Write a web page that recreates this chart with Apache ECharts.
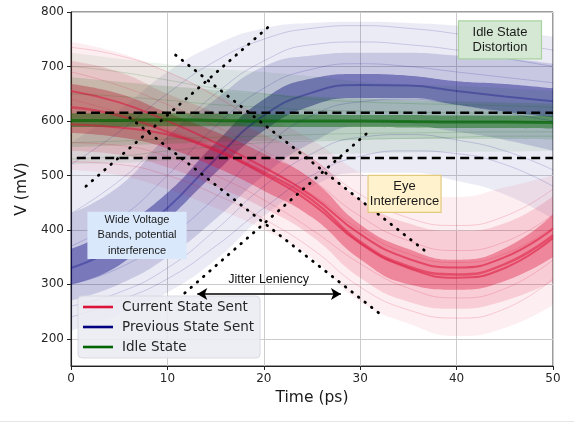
<!DOCTYPE html>
<html><head><meta charset="utf-8">
<script src="https://cdn.jsdelivr.net/npm/echarts@6/dist/echarts.min.js"></script>
<style>html,body{margin:0;padding:0;background:#fff}#c{width:574px;height:424px}</style>
</head><body><div id="c"></div>
<script>
// ---- data ----
const timePs = [0, 5, 10, 15, 20, 25, 30, 35, 40, 45, 50];
const xTicks = [0, 10, 20, 30, 40, 50];
const yTicks = [200, 300, 400, 500, 600, 700, 800];

// Current State Sent (red)
const redCore    = [625, 610, 580, 548, 506, 455, 378, 333, 318, 337, 390];
const redUpperSub= [655, 634, 600, 560, 515, 462, 392, 347, 331, 350, 402];
const redLowerSub= [594, 588, 575, 545, 502, 448, 375, 330, 312, 330, 385];
const redInnerLo = [578, 570, 550, 515, 472, 423, 346, 300, 290, 306, 350];
const redInnerHi = [668, 650, 615, 580, 540, 492, 410, 365, 345, 366, 428];
const redMidLo   = [545, 538, 515, 480, 440, 388, 312, 268, 255, 270, 305];
const redMidHi   = [710, 690, 650, 615, 575, 532, 455, 412, 398, 412, 462];
const redOutLo   = [510, 500, 475, 440, 400, 348, 268, 228, 205, 220, 262];
const redOutHi   = [745, 725, 690, 650, 610, 565, 505, 468, 460, 478, 500];
const redTraces  = [
  [735, 720, 690, 645, 590, 530, 465, 422, 408, 425, 475],
  [690, 665, 630, 590, 545, 492, 425, 380, 362, 378, 428],
  [640, 615, 585, 552, 512, 465, 400, 356, 340, 356, 405],
  [560, 555, 535, 500, 455, 400, 338, 293, 275, 292, 345],
  [525, 520, 500, 465, 420, 365, 295, 253, 238, 255, 310]
];

// Previous State Sent (blue)
const blueCore    = [330, 370, 440, 530, 610, 652, 666, 665, 655, 645, 636];
const blueInnerLo = [300, 335, 418, 505, 582, 628, 642, 642, 630, 617, 607];
const blueInnerHi = [365, 405, 468, 560, 640, 678, 686, 683, 673, 668, 660];
const blueMidLo   = [270, 300, 350, 420, 500, 560, 590, 590, 580, 565, 545];
const blueMidHi   = [430, 480, 570, 640, 700, 720, 725, 725, 720, 715, 705];
const blueOutLo   = [215, 245, 285, 345, 425, 480, 505, 505, 490, 465, 420];
const blueOutHi   = [560, 620, 690, 740, 770, 780, 782, 780, 775, 765, 755];
const blueTraces  = [
  [260, 285, 330, 400, 480, 540, 570, 575, 565, 545, 510],
  [300, 330, 385, 460, 550, 610, 635, 640, 630, 615, 600],
  [370, 420, 500, 590, 660, 695, 705, 700, 690, 680, 670],
  [430, 490, 570, 650, 710, 740, 745, 740, 730, 715, 700],
  [520, 580, 650, 710, 750, 770, 775, 770, 760, 745, 730],
  [240, 270, 310, 370, 440, 500, 535, 545, 540, 520, 480]
];

// Idle State (green)
const greenCore    = [601, 601, 602, 601, 600, 600, 600, 599, 598, 598, 597];
const greenInnerLo = [589, 589, 590, 590, 589, 589, 589, 588, 587, 587, 586];
const greenInnerHi = [614, 614, 614, 613, 612, 612, 611, 611, 610, 610, 609];
const greenMidLo   = [552, 555, 558, 561, 563, 565, 566, 567, 567, 567, 566];
const greenMidHi   = [680, 672, 664, 657, 650, 645, 641, 638, 636, 634, 632];
const greenOutLo   = [520, 523, 527, 531, 535, 538, 540, 542, 543, 544, 545];
const greenOutHi   = [725, 714, 704, 696, 690, 682, 672, 667, 664, 660, 655];
const greenTraces  = [
  [700, 690, 675, 660, 650, 640, 635, 632, 630, 628, 625],
  [650, 645, 638, 630, 625, 620, 618, 616, 615, 614, 612],
  [560, 563, 567, 570, 572, 575, 577, 578, 579, 580, 580],
  [530, 535, 545, 553, 560, 563, 566, 568, 570, 572, 572]
];

// reference lines
const hLevels = [615, 532];
const hStart = 0.6, hEnd = 50;
const dottedLines = [
  [[1.55, 480], [20.7, 776]],
  [[10.85, 721], [36.9, 359]],
  [[6.1, 606], [32.1, 245]],
  [[11.8, 284], [31.0, 582]]
];
const jitterArrow = [[13.1, 282], [28.0, 282]];

// annotations (data coordinates of their centres)
const notes = [
  {text: 'Idle State\nDistortion', at: [44.5, 749], w: 83, h: 38, fill: '#d5e8d4', stroke: '#a9d3a0', size: 13},
  {text: 'Eye\nInterference', at: [34.6, 466], w: 73, h: 37, fill: '#fff2cc', stroke: '#e3c97e', size: 13},
  {text: 'Wide Voltage\nBands, potential\ninterference', at: [6.85, 390], w: 98, h: 46, fill: '#dae8fc', stroke: '#dae8fc', size: 11}
];
const jitterLabel = {text: 'Jitter Leniency', at: [20.5, 308]};

const RED = '#dc143c', BLUE = '#000080', GREEN = '#006400';
const SM = 0.5;

// ---- build series ----
const pts = arr => timePs.map((x, i) => [x, arr[i]]);
const series = [];
let uid = 0;
// bands: stacked areas on a hidden category axis aligned with the time axis
function band(lo, hi, color, op) {
  const id = 'band' + (uid++);
  series.push({type: 'line', name: '_' + id + 'a', xAxisIndex: 1, stack: id, data: lo.slice(), smooth: SM,
    symbol: 'none', lineStyle: {opacity: 0}, silent: true, z: 2});
  series.push({type: 'line', name: '_' + id + 'b', xAxisIndex: 1, stack: id, data: hi.map((v, i) => v - lo[i]), smooth: SM,
    symbol: 'none', lineStyle: {opacity: 0}, areaStyle: {color: color, opacity: op}, silent: true, z: 2});
}
function trace(arr, color, op, w, name) {
  series.push({type: 'line', name: name || '_t' + (uid++), data: pts(arr), smooth: SM, symbol: 'none',
    itemStyle: {color: color}, lineStyle: {color: color, width: w, opacity: op}, silent: true, z: 3});
}

// blue first
band(blueOutLo, blueOutHi, BLUE, 0.08);
band(blueMidLo, blueMidHi, BLUE, 0.15);
band(blueInnerLo, blueInnerHi, BLUE, 0.4);
blueTraces.forEach(t => trace(t, BLUE, 0.16, 1));
trace(blueCore, BLUE, 0.3, 2, 'Previous State Sent');
// red
band(redOutLo, redOutHi, RED, 0.07);
band(redMidLo, redMidHi, RED, 0.15);
band(redInnerLo, redInnerHi, RED, 0.38);
redTraces.forEach(t => trace(t, RED, 0.18, 1));
trace(redUpperSub, RED, 0.55, 2);
trace(redLowerSub, RED, 0.55, 2);
trace(redCore, RED, 0.5, 2.5, 'Current State Sent');
// green
band(greenOutLo, greenOutHi, GREEN, 0.07);
band(greenMidLo, greenMidHi, GREEN, 0.13);
band(greenInnerLo, greenInnerHi, GREEN, 0.45);
greenTraces.forEach(t => trace(t, GREEN, 0.15, 1));
trace(greenCore, GREEN, 0.65, 3, 'Idle State');

// dashed horizontals
hLevels.forEach((v, i) => series.push({type: 'line', name: '_h' + i, data: [[hStart, v], [hEnd, v]],
  symbol: 'none', silent: true, z: 6, lineStyle: {color: '#000', width: 2.6, type: [9, 5.2]}}));
// dotted diagonals
dottedLines.forEach((l, i) => series.push({type: 'line', name: '_d' + i, data: l,
  symbol: 'none', silent: true, z: 6, lineStyle: {color: '#000', width: 2.8, type: [0.6, 7.7], cap: 'round'}}));
// arrow
series.push({type: 'line', name: '_arrow', data: [], silent: true, z: 7,
  markLine: {silent: true, symbol: ['arrow', 'arrow'], symbolSize: [9, 10], label: {show: false},
    lineStyle: {color: '#000', width: 1.6, type: 'solid'},
    data: [[{coord: jitterArrow[0]}, {coord: jitterArrow[1]}]]}});

const chart = echarts.init(document.getElementById('c'), null, {renderer: 'canvas'});
const FONT = 'DejaVu Sans';
chart.setOption({
  animation: false,
  backgroundColor: '#fff',
  grid: {left: 71, right: 21, top: 12, bottom: 58, show: true, borderColor: '#3a3a3a', borderWidth: 1},
  xAxis: [{type: 'value', min: 0, max: 50, interval: 10,
    name: 'Time (ps)', nameLocation: 'middle', nameGap: 23,
    nameTextStyle: {fontFamily: FONT, fontSize: 15.5, color: '#1a1a1a'},
    axisLine: {lineStyle: {color: '#222', width: 1.1}},
    axisTick: {show: true, length: 4, lineStyle: {color: '#222'}},
    axisLabel: {fontFamily: FONT, fontSize: 12, color: '#262626', margin: 7,
      formatter: v => xTicks.includes(v) ? String(v) : ''},
    splitLine: {show: true, lineStyle: {color: '#cccccc', width: 1}}},
    {type: 'category', data: timePs.map(String), boundaryGap: false, show: false}],
  yAxis: {type: 'value', min: 150, max: 800, splitNumber: 7,
    name: 'V (mV)', nameLocation: 'middle', nameGap: 36,
    nameTextStyle: {fontFamily: FONT, fontSize: 15.5, color: '#1a1a1a'},
    axisLine: {show: true, lineStyle: {color: '#222', width: 1.1}},
    axisTick: {show: true, length: 4, lineStyle: {color: '#222'}},
    axisLabel: {fontFamily: FONT, fontSize: 12, color: '#262626', margin: 7, showMinLabel: false,
      formatter: v => yTicks.includes(v) ? String(v) : ''},
    splitLine: {show: true, lineStyle: {color: '#cccccc', width: 1}}},
  legend: {show: true, orient: 'vertical', left: 78, top: 296, icon: 'rect', itemWidth: 30, itemHeight: 2.6, itemGap: 6,
    padding: [4, 6, 4, 5], backgroundColor: 'rgba(234,234,242,0.88)', borderColor: 'rgba(215,215,225,0.9)', borderWidth: 1, borderRadius: 4,
    textStyle: {fontFamily: FONT, fontSize: 13.5, color: '#262626', padding: [0, 0, 0, 4]},
    data: [
      {name: 'Current State Sent', itemStyle: {color: RED, opacity: 1}},
      {name: 'Previous State Sent', itemStyle: {color: BLUE, opacity: 1}},
      {name: 'Idle State', itemStyle: {color: GREEN, opacity: 1}}
    ], selectedMode: false},
  series: series
});

// annotations in pixel space computed from data coordinates
const g = [];
notes.forEach(n => {
  const p = chart.convertToPixel({gridIndex: 0}, n.at);
  g.push({type: 'rect', z: 100, shape: {x: p[0] - n.w / 2, y: p[1] - n.h / 2, width: n.w, height: n.h},
    style: {fill: n.fill, stroke: n.stroke, lineWidth: 1.2}});
  g.push({type: 'text', z: 101, x: p[0], y: p[1], style: {text: n.text, fill: '#1a1a1a',
    font: n.size + 'px "Liberation Sans", Arial, sans-serif', align: 'center', verticalAlign: 'middle',
    lineHeight: 15.5}});
});
const jp = chart.convertToPixel({gridIndex: 0}, jitterLabel.at);
g.push({type: 'text', z: 101, x: jp[0], y: jp[1], style: {text: jitterLabel.text, fill: '#111',
  font: '12.5px "Liberation Sans", Arial, sans-serif', align: 'center', verticalAlign: 'middle'}});
g.push({type: 'line', z: 100, shape: {x1: 0, y1: 421.5, x2: 574, y2: 421.5}, style: {stroke: '#e6e6e6', lineWidth: 1}});
chart.setOption({graphic: g});
</script></body></html>
